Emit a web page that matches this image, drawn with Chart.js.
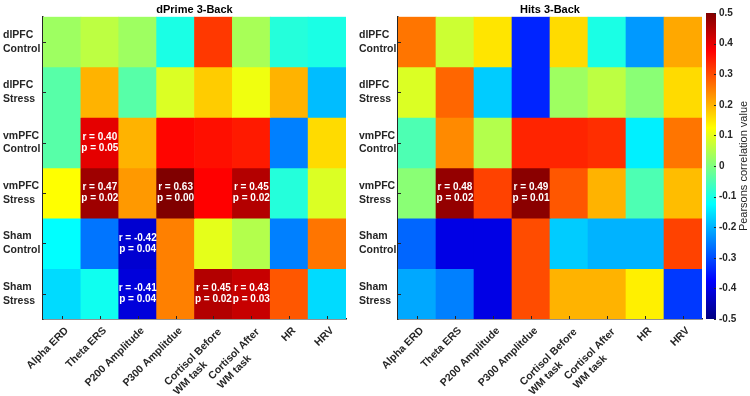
<!DOCTYPE html>
<html>
<head>
<meta charset="utf-8">
<script src="https://cdn.jsdelivr.net/npm/chart.js@4.4.0/dist/chart.umd.min.js"></script>
<style>
  html, body { margin: 0; padding: 0; background: #fff; }
  #wrap { position: relative; width: 750px; height: 396px; }
  #wrap canvas { position: absolute; left: 0; top: 0; }
</style>
</head>
<body>
<div id="wrap">
  <canvas id="dprimeChart" width="750" height="396"></canvas>
  <canvas id="hitsChart" width="750" height="396"></canvas>
  <canvas id="colorBar" width="750" height="396"></canvas>
</div>
<script>
const measures = ['Alpha ERD', 'Theta ERS', 'P200 Amplitude', 'P300 Amplitdue',
    ['Cortisol Before', 'WM task'], ['Cortisol After', 'WM task'], 'HR', 'HRV'];
const groups = [['dlPFC', 'Control'], ['dlPFC', 'Stress'], ['vmPFC', 'Control'],
    ['vmPFC', 'Stress'], ['Sham', 'Control'], ['Sham', 'Stress']];

// correlation values, one row per group
const dprimeValues = [
    [0.03, 0.06, 0.03, -0.10, 0.32, 0.04, -0.09, -0.10],
    [-0.04, 0.20, -0.04, 0.09, 0.175, 0.11, 0.20, -0.19],
    [-0.04, 0.40, 0.20, 0.37, 0.36, 0.35, -0.25, 0.16],
    [0.125, 0.47, 0.225, 0.63, 0.375, 0.45, -0.09, 0.09],
    [-0.125, -0.26, -0.42, 0.25, 0.10, 0.05, -0.25, 0.26],
    [-0.16, -0.11, -0.41, 0.25, 0.45, 0.43, 0.29, -0.16]
];
const hitsValues = [
    [0.26, 0.075, 0.15, -0.34, 0.16, -0.10, -0.225, 0.21],
    [0.09, 0.275, -0.175, -0.34, 0.03, 0.06, 0.01, 0.16],
    [-0.05, 0.24, 0.05, 0.34, 0.34, 0.33, -0.14, 0.26],
    [0.01, 0.48, 0.31, 0.49, 0.29, 0.20, -0.05, 0.19],
    [-0.275, -0.40, -0.40, 0.30, -0.175, -0.20, -0.20, 0.31],
    [-0.21, -0.25, -0.40, 0.30, 0.20, 0.20, 0.14, -0.32]
];

// significant cells: [row, column, p]
const dprimeSig = [[2, 1, 0.05], [3, 1, 0.02], [3, 3, 0.00], [3, 5, 0.02],
    [4, 2, 0.04], [5, 2, 0.04], [5, 4, 0.02], [5, 5, 0.03]];
const hitsSig = [[3, 1, 0.02], [3, 3, 0.01]];

const colorTicks = [0.5, 0.4, 0.3, 0.2, 0.1, 0, -0.1, -0.2, -0.3, -0.4, -0.5];

const FONT = '"Liberation Sans", Arial, sans-serif';
const TXT = '#262626';
Chart.defaults.font.family = FONT;

// MATLAB jet, range -0.5..0.5
function jet(v) {
    const t = Math.min(1, Math.max(0, v + 0.5));
    const c = x => Math.round(255 * Math.min(1, Math.max(0, x)));
    const r = c(1.5 - Math.abs(4 * t - 3));
    const g = c(1.5 - Math.abs(4 * t - 2));
    const b = c(1.5 - Math.abs(4 * t - 1));
    return `rgb(${r},${g},${b})`;
}

const heatmapDecor = {
    id: 'heatmapDecor',
    afterDraw(chart, args, opts) {
        const { ctx, chartArea: area, scales: { x, y } } = chart;
        ctx.save();

        ctx.fillStyle = '#000';
        ctx.font = 'bold 11px ' + FONT;
        ctx.textAlign = 'center';
        ctx.textBaseline = 'middle';
        ctx.fillText(opts.title, (area.left + area.right) / 2, area.top - 7);

        // inward tick marks
        ctx.strokeStyle = TXT;
        ctx.lineWidth = 1;
        ctx.beginPath();
        measures.forEach((m, i) => {
            const px = Math.round(x.getPixelForValue(i)) + 0.5;
            ctx.moveTo(px, area.bottom);
            ctx.lineTo(px, area.bottom - 3);
        });
        groups.forEach((g, i) => {
            const py = Math.round(y.getPixelForValue(i)) + 0.5;
            ctx.moveTo(area.left, py);
            ctx.lineTo(area.left + 3, py);
        });
        ctx.stroke();

        // rotated x labels
        ctx.fillStyle = TXT;
        ctx.font = 'bold 10.5px ' + FONT;
        ctx.textBaseline = 'middle';
        measures.forEach((m, i) => {
            const px = x.getPixelForValue(i);
            ctx.save();
            ctx.translate(px + 5, area.bottom + 10);
            ctx.rotate(-Math.PI / 4);
            if (Array.isArray(m)) {
                const w = ctx.measureText(m[0]).width;
                ctx.textAlign = 'right';
                ctx.fillText(m[0], 0, 2);
                ctx.textAlign = 'left';
                ctx.fillText(m[1], -w, 15);
            } else {
                ctx.textAlign = 'right';
                ctx.fillText(m, 0, 0);
            }
            ctx.restore();
        });

        // r / p annotations
        ctx.fillStyle = '#fff';
        ctx.font = 'bold 10px ' + FONT;
        ctx.textAlign = 'center';
        opts.sig.forEach(([r, c, p]) => {
            const cx = x.getPixelForValue(c);
            const cy = y.getPixelForValue(r);
            ctx.fillText('r = ' + opts.values[r][c].toFixed(2), cx, cy - 5.5);
            ctx.fillText('p = ' + p.toFixed(2), cx, cy + 5.5);
        });
        ctx.restore();
    }
};

function makeHeatmap(id, title, values, sig, padLeft, axisWidth, padRight) {
    const datasets = values.map((row, r) => ({
        data: row.map(() => [r - 0.5, r + 0.5]),
        backgroundColor: row.map(jet),
        borderWidth: 0,
        grouped: false,
        barPercentage: 1,
        categoryPercentage: 1
    }));
    new Chart(document.getElementById(id), {
        type: 'bar',
        data: { labels: measures.map(m => Array.isArray(m) ? m.join(' ') : m), datasets },
        options: {
            responsive: false,
            animation: false,
            devicePixelRatio: 1,
            events: [],
            layout: { padding: { left: padLeft, right: padRight, top: 13, bottom: 0 } },
            plugins: {
                legend: { display: false },
                tooltip: { enabled: false },
                heatmapDecor: { title, values, sig }
            },
            scales: {
                x: {
                    z: 1,
                    offset: true,
                    grid: { display: false, drawTicks: false },
                    border: { display: true, color: TXT, width: 1.5 },
                    ticks: { display: false },
                    afterFit: s => { s.height = 77; }
                },
                y: {
                    z: 1,
                    type: 'linear',
                    min: -0.5,
                    max: 5.5,
                    reverse: true,
                    afterBuildTicks: s => { s.ticks = groups.map((g, i) => ({ value: i })); },
                    grid: { display: false, drawTicks: false },
                    border: { display: true, color: TXT, width: 1.5 },
                    ticks: {
                        autoSkip: false,
                        crossAlign: 'far',
                        padding: 3,
                        color: TXT,
                        font: { size: 10.5, weight: 'bold', lineHeight: 1.3 },
                        callback: v => groups[v]
                    },
                    afterFit: s => { s.width = axisWidth; }
                }
            }
        },
        plugins: [heatmapDecor]
    });
}

makeHeatmap('dprimeChart', 'dPrime 3-Back', dprimeValues, dprimeSig, 3, 40, 404);
makeHeatmap('hitsChart', 'Hits 3-Back', hitsValues, hitsSig, 359, 39, 48);

// colour bar
const jetStops = [0, 0.125, 0.375, 0.625, 0.875, 1];
const colorBarDecor = {
    id: 'colorBarDecor',
    afterDraw(chart) {
        const { ctx, chartArea: area, scales: { y } } = chart;
        ctx.save();
        ctx.strokeStyle = TXT;
        ctx.lineWidth = 1;
        ctx.beginPath();
        colorTicks.forEach(v => {
            const py = Math.round(y.getPixelForValue(v)) + 0.5;
            ctx.moveTo(area.right, py);
            ctx.lineTo(area.right - 2, py);
        });
        ctx.stroke();
        ctx.translate(744, (area.top + area.bottom) / 2);
        ctx.rotate(-Math.PI / 2);
        ctx.fillStyle = TXT;
        ctx.font = '11px ' + FONT;
        ctx.textAlign = 'center';
        ctx.textBaseline = 'middle';
        ctx.fillText('Pearsons correlation value', 0, 0);
        ctx.restore();
    }
};

new Chart(document.getElementById('colorBar'), {
    type: 'bar',
    data: {
        labels: [''],
        datasets: [{
            data: [[-0.5, 0.5]],
            borderWidth: 0,
            barPercentage: 1,
            categoryPercentage: 1,
            backgroundColor: c => {
                const a = c.chart.chartArea;
                if (!a) return '#888';
                const grad = c.chart.ctx.createLinearGradient(0, a.bottom, 0, a.top);
                jetStops.forEach(t => grad.addColorStop(t, jet(t - 0.5)));
                return grad;
            }
        }]
    },
    options: {
        responsive: false,
        animation: false,
        devicePixelRatio: 1,
        events: [],
        layout: { padding: { left: 706, right: 0, top: 13, bottom: 77 } },
        plugins: { legend: { display: false }, tooltip: { enabled: false } },
        scales: {
            x: { display: false },
            y: {
                position: 'right',
                min: -0.5,
                max: 0.5,
                afterBuildTicks: s => { s.ticks = colorTicks.map(v => ({ value: v })); },
                grid: { display: false, drawTicks: false },
                border: { display: false },
                ticks: {
                    padding: 3,
                    color: TXT,
                    font: { size: 10, weight: 'bold' },
                    callback: v => String(Math.round(v * 10) / 10)
                },
                afterFit: s => { s.width = 34; }
            }
        }
    },
    plugins: [colorBarDecor]
});
</script>
</body>
</html>
